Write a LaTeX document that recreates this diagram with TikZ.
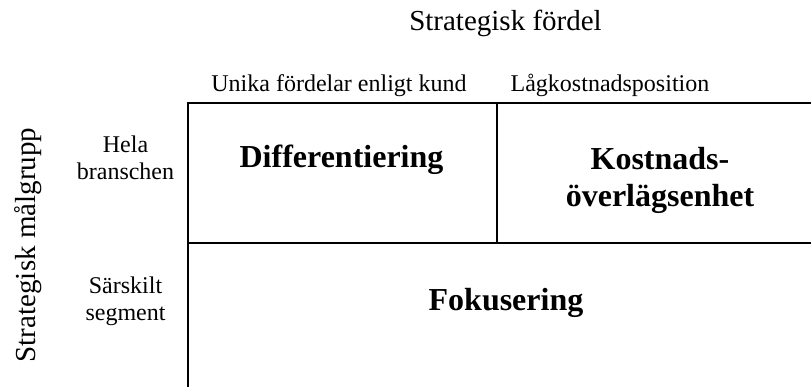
\documentclass[tikz,border=0pt]{standalone}
\usepackage{fontspec}
\setmainfont{Liberation Serif}
\begin{document}
\begin{tikzpicture}[x=1pt,y=1pt,
  big/.style={font=\fontsize{29}{33}\selectfont, anchor=base, inner sep=0pt},
  lab/.style={font=\fontsize{24}{27}\selectfont, anchor=base, inner sep=0pt},
  cell/.style={font=\fontsize{32}{37}\selectfont\bfseries, anchor=base, inner sep=0pt},
  frame/.style={line width=2.8pt, line cap=rect}]
\useasboundingbox (0,0) rectangle (811,386);
% grid corners
\coordinate (tl) at (188,283);
\coordinate (tr) at (811,283);
\coordinate (ml) at (188,143);
\coordinate (mr) at (811,143);
\coordinate (bl) at (188,0);
\coordinate (vt) at (497,283);
\coordinate (vb) at (497,143);
\draw[frame] (tr) -- (tl) -- (bl);
\draw[frame] (ml) -- (mr);
\draw[frame] (vt) -- (vb);
% titles
\node[big] (xtitle) at (505.5,355) {Strategisk fördel};
\node[big, rotate=90] (ytitle) at (35,141) {Strategisk målgrupp};
% column labels
\node[lab] (col1) at (339,294) {Unika fördelar enligt kund};
\node[lab] (col2) at (610,294) {Lågkostnadsposition};
% row labels
\node[lab] (row1a) at (125.5,233) {Hela};
\node[lab] (row1b) at (125.5,206) {branschen};
\node[lab] (row2a) at (125.5,93) {Särskilt};
\node[lab] (row2b) at (125.5,66) {segment};
% cells
\node[cell] (diff) at (341.5,218) {Differentiering};
\node[cell] (kost1) at (660,216) {Kostnads-};
\node[cell] (kost2) at (660,179) {överlägsenhet};
\node[cell] (fok) at (506,76) {Fokusering};
\end{tikzpicture}
\end{document}
